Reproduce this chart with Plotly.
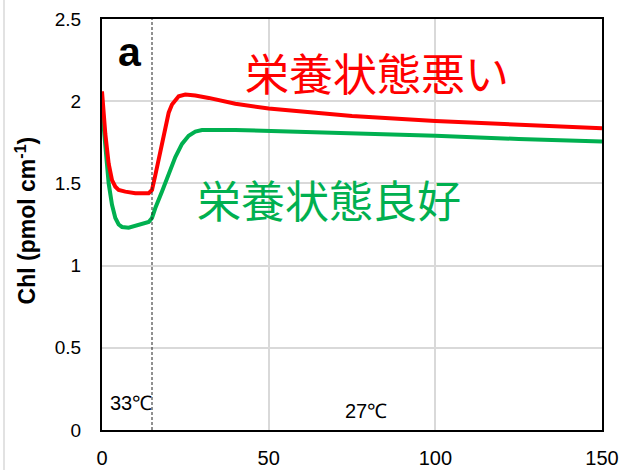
import plotly.graph_objects as go

# Chlorophyll content over time (days), two nutritional conditions
time_poor = [0, 1, 2, 3, 4, 5, 7, 10, 14, 15, 16, 17, 18, 19, 20, 21, 22, 23, 25, 28, 32,
             40, 50, 60, 75, 100, 125, 150]
chl_poor = [2.06, 1.80, 1.62, 1.52, 1.48, 1.46, 1.45, 1.44, 1.44, 1.46, 1.55, 1.64, 1.74,
            1.84, 1.93, 1.98, 2.01, 2.03, 2.04, 2.035, 2.02, 1.985, 1.955, 1.935, 1.91,
            1.88, 1.855, 1.835]

time_good = [0, 1, 2, 3, 4, 5, 6, 8, 10, 12, 14, 15, 16, 18, 20, 22, 24, 26, 28, 30, 40,
             60, 80, 100, 125, 150]
chl_good = [1.96, 1.70, 1.50, 1.37, 1.29, 1.25, 1.235, 1.23, 1.24, 1.255, 1.265, 1.29,
            1.35, 1.45, 1.56, 1.66, 1.74, 1.79, 1.815, 1.825, 1.825, 1.815, 1.80, 1.79,
            1.77, 1.755]

label_poor = "栄養状態悪い"
label_good = "栄養状態良好"
temp_before = "33℃"
temp_after = "27℃"
shift_day = 15
panel_tag = "a"

x_ticks = [0, 50, 100, 150]
y_ticks = [0, 0.5, 1, 1.5, 2, 2.5]
y_tick_text = ["0", "0.5", "1", "1.5", "2", "2.5"]

RED = "#FF0000"
GREEN = "#00B050"
GRID = "#D9D9D9"
LATIN = "Liberation Sans, Arial, sans-serif"
CJK = "Noto Sans CJK JP, sans-serif"

fig = go.Figure()
fig.add_trace(go.Scatter(x=time_good, y=chl_good, mode="lines",
                         line=dict(color=GREEN, width=4), showlegend=False))
fig.add_trace(go.Scatter(x=time_poor, y=chl_poor, mode="lines",
                         line=dict(color=RED, width=4), showlegend=False))

# temperature shift marker
fig.add_shape(type="line", x0=shift_day, x1=shift_day, y0=0, y1=2.5, xref="x", yref="y",
              line=dict(color="#222222", width=1, dash="3px,2px"))

# thin frame line at the far left of the figure
fig.add_shape(type="line", xref="paper", yref="paper", x0=-0.196, x1=-0.196,
              y0=-0.1, y1=1.05, line=dict(color=GRID, width=1.5))

fig.add_annotation(x=8.4, y=2.30, text="<b>" + panel_tag + "</b>", showarrow=False,
                   font=dict(family=LATIN, size=41, color="black"))
fig.add_annotation(x=82.5, y=2.18, text=label_poor, showarrow=False,
                   font=dict(family=CJK, size=44, color=RED))
fig.add_annotation(x=68.1, y=1.405, text=label_good, showarrow=False,
                   font=dict(family=CJK, size=44, color=GREEN))
fig.add_annotation(x=8.6, y=0.165, text=temp_before, showarrow=False,
                   font=dict(family=LATIN, size=20, color="black"))
fig.add_annotation(x=79.2, y=0.115, text=temp_after, showarrow=False,
                   font=dict(family=LATIN, size=20, color="black"))
fig.add_annotation(xref="paper", yref="paper", x=-0.152, y=0.51, xanchor="center",
                   yanchor="middle", text="<b>Chl (pmol cm<sup>-1</sup>)</b>",
                   textangle=-90, showarrow=False,
                   font=dict(family=LATIN, size=23, color="black"))

fig.update_xaxes(range=[0, 150], tickvals=x_ticks, showgrid=True, gridcolor=GRID,
                 gridwidth=1.5, showline=True, linecolor="black", linewidth=2,
                 mirror=True, zeroline=False, ticks="outside", ticklen=9,
                 tickcolor="rgba(0,0,0,0)", automargin=False,
                 tickfont=dict(family=LATIN, size=20, color="black"))
fig.update_yaxes(range=[0, 2.5], tickvals=y_ticks, ticktext=y_tick_text,
                 showgrid=True, gridcolor=GRID, gridwidth=1.5, showline=True,
                 linecolor="black", linewidth=2, mirror=True, zeroline=False,
                 ticks="outside", ticklen=15, tickcolor="rgba(0,0,0,0)", automargin=False,
                 tickfont=dict(family=LATIN, size=19, color="black"))

fig.update_layout(width=624, height=470, margin=dict(l=102, r=22, t=19, b=40),
                  paper_bgcolor="white", plot_bgcolor="white")

fig.write_html("out.html")
